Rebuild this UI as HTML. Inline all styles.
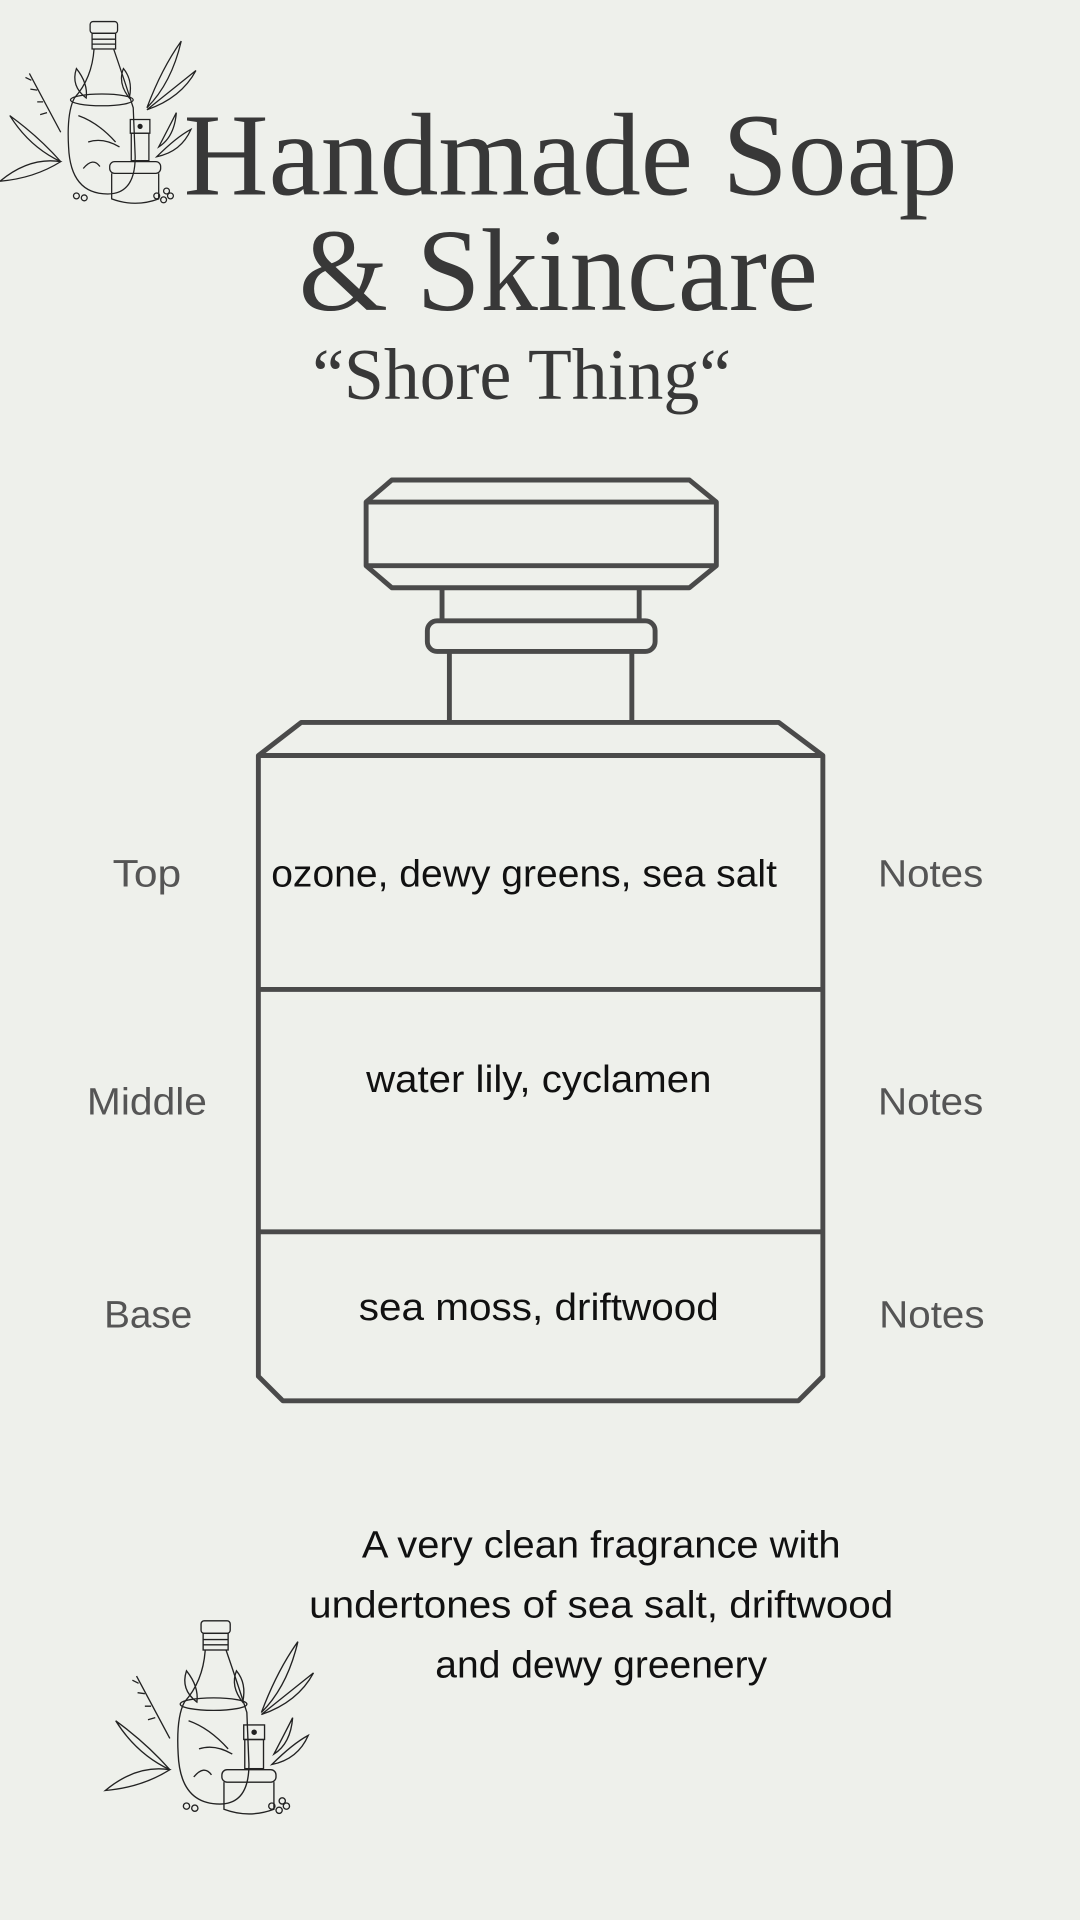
<!DOCTYPE html>
<html><head><meta charset="utf-8"><style>
html,body{margin:0;padding:0;background:#eef0eb;}
svg{display:block}
</style></head><body>
<svg width="1080" height="1920" viewBox="0 0 882 1568" xmlns="http://www.w3.org/2000/svg">
<rect width="882" height="1568" fill="#eef0eb"/>
<defs>
<g id="ill" fill="none" stroke="#222" stroke-width="1.3">
  <rect x="92" y="22" width="28" height="12" rx="3"/>
  <rect x="94" y="34" width="24" height="16"/>
  <line x1="94" y1="40" x2="118" y2="40"/><line x1="94" y1="45" x2="118" y2="45"/>
  <path d="M96 50 Q94 80 76 100 Q68 115 70 150 Q72 198 110 198 Q138 198 138 160 L136 110 Q128 85 116 50"/>
  <ellipse cx="104" cy="102" rx="32" ry="6"/>
  <path d="M80 118 Q100 125 118 145 M90 145 Q105 140 122 150 M85 172 Q95 160 102 170"/>
  <rect x="133" y="122" width="20" height="14"/><circle cx="143" cy="129" r="2" fill="#222"/>
  <rect x="134" y="136" width="18" height="28"/>
  <rect x="112" y="165" width="52" height="12" rx="5"/>
  <path d="M114 177 L114 203 Q138 212 162 203 L162 177"/>
  <path d="M10 118 Q40 140 62 165 Q30 150 10 118Z"/>
  <path d="M0 185 Q30 160 62 165 Q35 182 0 185Z"/>
  <path d="M30 75 L62 135 M32 82 l-6 -3 M38 92 l-7 -1 M44 104 l-6 0 M48 115 l-7 2"/>
  <path d="M150 110 Q165 70 185 42 Q175 85 150 110Z"/>
  <path d="M150 112 Q180 88 200 72 Q185 100 150 112Z"/>
  <path d="M160 160 Q180 140 195 132 Q185 155 160 160Z"/>
  <path d="M162 150 Q175 125 180 115 Q178 140 162 150Z"/>
  <path d="M78 70 Q90 85 88 100 Q72 88 78 70Z"/>
  <path d="M126 70 Q136 82 132 100 Q120 85 126 70Z"/>
  <circle cx="78" cy="200" r="3"/><circle cx="86" cy="202" r="3"/><circle cx="160" cy="200" r="3"/><circle cx="167" cy="204" r="3"/><circle cx="174" cy="200" r="3"/><circle cx="170" cy="195" r="3"/>
</g>
</defs>
<g transform="translate(0,0) scale(0.8)"><use href="#ill"/></g>
<g transform="translate(86,1305) scale(0.85)"><use href="#ill"/></g>

<g font-family="Liberation Serif, serif" fill="#383838" text-anchor="middle">
<text x="466" y="159" font-size="96" textLength="632" lengthAdjust="spacingAndGlyphs">Handmade Soap</text>
<text x="456" y="253" font-size="96" textLength="424" lengthAdjust="spacingAndGlyphs">&amp; Skincare</text>
<text x="426" y="326" font-size="60" textLength="342" lengthAdjust="spacingAndGlyphs">“Shore Thing“</text>
</g>

<g fill="none" stroke="#4a4a4a" stroke-width="4" stroke-linejoin="round">
<path d="M320 392 L563 392 L585 410 L585 462 L563 480 L320 480 L299 462 L299 410 Z"/>
<line x1="299" y1="410" x2="585" y2="410"/>
<line x1="299" y1="462" x2="585" y2="462"/>
<path d="M361 480 L361 507 M522 480 L522 507"/>
<rect x="349" y="507" width="186" height="25" rx="8"/>
<path d="M367 532 L367 590 M516 532 L516 590"/>
<path d="M246 590 L636 590 L672 617 L672 1124 L652 1144 L231 1144 L211 1124 L211 617 Z"/>
<line x1="211" y1="617" x2="672" y2="617"/>
<line x1="211" y1="808" x2="672" y2="808"/>
<line x1="211" y1="1006" x2="672" y2="1006"/>
</g>

<g font-family="Liberation Sans, sans-serif" font-size="31" text-anchor="middle">
<g fill="#555">
<text x="120" y="724" textLength="56" lengthAdjust="spacingAndGlyphs">Top</text><text x="760" y="724" textLength="86" lengthAdjust="spacingAndGlyphs">Notes</text>
<text x="120" y="910" textLength="98" lengthAdjust="spacingAndGlyphs">Middle</text><text x="760" y="910" textLength="86" lengthAdjust="spacingAndGlyphs">Notes</text>
<text x="121" y="1084" textLength="72" lengthAdjust="spacingAndGlyphs">Base</text><text x="761" y="1084" textLength="86" lengthAdjust="spacingAndGlyphs">Notes</text>
</g>
<g fill="#111">
<text x="428" y="724" textLength="413" lengthAdjust="spacingAndGlyphs">ozone, dewy greens, sea salt</text>
<text x="440" y="892" textLength="282" lengthAdjust="spacingAndGlyphs">water lily, cyclamen</text>
<text x="440" y="1078" textLength="294" lengthAdjust="spacingAndGlyphs">sea moss, driftwood</text>
<text x="491" y="1272" textLength="391" lengthAdjust="spacingAndGlyphs">A very clean fragrance with</text>
<text x="491" y="1321" textLength="477" lengthAdjust="spacingAndGlyphs">undertones of sea salt, driftwood</text>
<text x="491" y="1370" textLength="271" lengthAdjust="spacingAndGlyphs">and dewy greenery</text>
</g>
</g>
</svg>
</body></html>
